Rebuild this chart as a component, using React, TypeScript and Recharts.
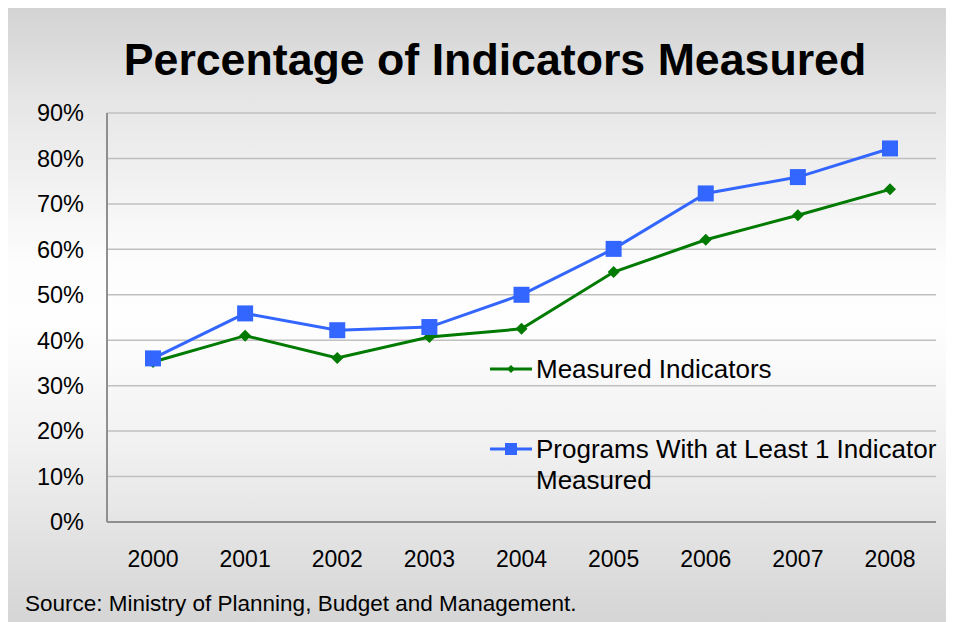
import React from "react";
import { LineChart, Line, XAxis, YAxis, CartesianGrid } from "recharts";

const years = ["2000", "2001", "2002", "2003", "2004", "2005", "2006", "2007", "2008"];
const measuredIndicators = [35.2, 41.0, 36.1, 40.7, 42.5, 55.0, 62.1, 67.5, 73.2];
const programsWithOne = [36.0, 45.9, 42.2, 42.9, 50.0, 60.1, 72.3, 75.9, 82.2];
const yTicks = [0, 10, 20, 30, 40, 50, 60, 70, 80, 90];

const titleText = "Percentage of Indicators Measured";
const sourceText = "Source: Ministry of Planning, Budget and Management.";
const seriesNames = ["Measured Indicators", "Programs With at Least 1 Indicator Measured"];

const GREEN = "#007a00";
const BLUE = "#3366ff";
const FONT = "'Liberation Sans', Arial, sans-serif";

const data = years.map((y, i) => ({
  year: y,
  measured: measuredIndicators[i],
  programs: programsWithOne[i],
}));

const SquareDot = (props: any) => {
  const { cx, cy, index } = props;
  if (cx == null || cy == null) return <g key={`s-${index}`} />;
  return <rect key={`s-${index}`} x={cx - 8} y={cy - 8} width={16} height={16} fill={BLUE} />;
};

const DiamondDot = (props: any) => {
  const { cx, cy, index } = props;
  if (cx == null || cy == null) return <g key={`d-${index}`} />;
  return (
    <path
      key={`d-${index}`}
      d={`M${cx},${cy - 6} L${cx + 6},${cy} L${cx},${cy + 6} L${cx - 6},${cy} Z`}
      fill={GREEN}
    />
  );
};

export default function App() {
  return (
    <div
      style={{
        position: "relative",
        width: 960,
        height: 614,
        background:
          "linear-gradient(to bottom, #d3d3d3 0%, #e6e6e6 15%, #fdfdfd 42%, #fefefe 52%, #f2f2f2 70%, #d5d5d5 100%)",
        fontFamily: FONT,
      }}
    >
      <style>{"html{overflow:hidden}"}</style>
      <LineChart
        width={946}
        height={614}
        data={data}
        margin={{ top: 105, right: 18, left: 0, bottom: 60 }}
      >
        <CartesianGrid vertical={false} stroke="#c0c0c0" strokeWidth={1.5} />
        <XAxis
          dataKey="year"
          height={40}
          padding={{ left: 46, right: 46 }}
          tickLine={false}
          tickSize={0}
          tickMargin={29}
          axisLine={{ stroke: "#8f8f8f", strokeWidth: 2 }}
          tick={{ fill: "#000", fontSize: 23, fontFamily: FONT }}
        />
        <YAxis
          width={99}
          domain={[0, 90]}
          ticks={yTicks}
          tickFormatter={(v: number) => `${v}%`}
          tickLine={false}
          tickSize={0}
          tickMargin={23}
          axisLine={{ stroke: "#8f8f8f", strokeWidth: 2 }}
          tick={{ fill: "#000", fontSize: 23.5, fontFamily: FONT }}
          interval={0}
        />
        <Line
          type="linear"
          dataKey="measured"
          name={seriesNames[0]}
          stroke={GREEN}
          strokeWidth={3}
          dot={DiamondDot}
          activeDot={false}
          isAnimationActive={false}
        />
        <Line
          type="linear"
          dataKey="programs"
          name={seriesNames[1]}
          stroke={BLUE}
          strokeWidth={3}
          dot={SquareDot}
          activeDot={false}
          isAnimationActive={false}
        />
      </LineChart>
      <svg
        width={946}
        height={614}
        style={{ position: "absolute", left: 0, top: 0, pointerEvents: "none" }}
      >
        <text
          x={487}
          y={67}
          textAnchor="middle"
          fontFamily={FONT}
          fontWeight="bold"
          fontSize={44.7}
          fill="#000"
        >
          {titleText}
        </text>
        <text x={17} y={603} fontFamily={FONT} fontSize={22.5} fill="#000">
          {sourceText}
        </text>
        {/* Legend */}
        <g>
          <line x1={482} y1={361} x2={524} y2={361} stroke={GREEN} strokeWidth={3} />
          <path d="M503,357 L507,361 L503,365 L499,361 Z" fill={GREEN} />
          <text x={528} y={370} fontFamily={FONT} fontSize={26} fill="#000">
            {seriesNames[0]}
          </text>
          <line x1={482} y1={441} x2={524} y2={441} stroke={BLUE} strokeWidth={3} />
          <rect x={497} y={435} width={12} height={12} fill={BLUE} />
          <text x={528} y={450} fontFamily={FONT} fontSize={26} fill="#000">
            Programs With at Least 1 Indicator
          </text>
          <text x={528} y={481} fontFamily={FONT} fontSize={26} fill="#000">
            Measured
          </text>
        </g>
      </svg>
    </div>
  );
}
